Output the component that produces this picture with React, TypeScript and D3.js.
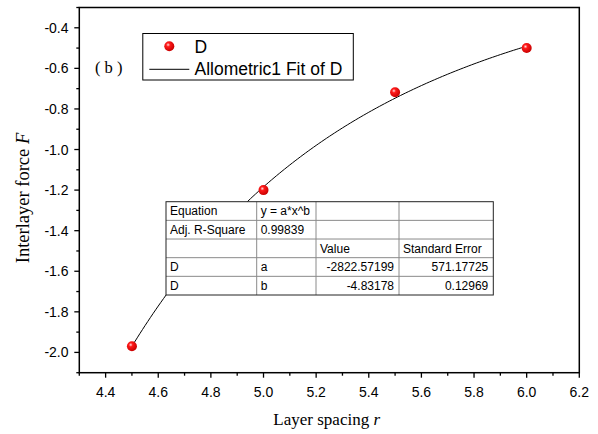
import { useEffect, useRef } from 'react'
import * as d3 from 'd3'

// measured points (layer spacing r, interlayer force F)
const spacing = [4.5, 5.0, 5.5, 6.0]
const force = [-1.97, -1.2, -0.718, -0.5]

// Allometric1 fit parameters (from the fit table)
const fitA = -2822.57199
const fitB = -4.83178

const xTicks = [4.4, 4.6, 4.8, 5.0, 5.2, 5.4, 5.6, 5.8, 6.0, 6.2]
const yTicks = [-2.0, -1.8, -1.6, -1.4, -1.2, -1.0, -0.8, -0.6, -0.4]

const tableRows = [
  ['Equation', 'y = a*x^b', '', ''],
  ['Adj. R-Square', '0.99839', '', ''],
  ['', '', 'Value', 'Standard Error'],
  ['D', 'a', '-2822.57199', '571.17725'],
  ['D', 'b', '-4.83178', '0.12969'],
]
// right-aligned cells: numeric values in the last two columns
const rightAligned = (r: number, c: number) => r >= 3 && c >= 2

const W = 598
const H = 434

const App = () => {
  const ref = useRef<SVGSVGElement>(null)

  useEffect(() => {
    if (!ref.current) return
    const svg = d3.select(ref.current)
    svg.selectAll('*').remove()

    const left = 79.3
    const right = 579.3
    const top = 7.5
    const bottom = 372.7

    const x = d3.scaleLinear().domain([4.3, 6.2]).range([left, right])
    const y = d3.scaleLinear().domain([-2.1, -0.3]).range([bottom, top])

    const defs = svg.append('defs')
    const grad = defs
      .append('radialGradient')
      .attr('id', 'ball')
      .attr('cx', '38%')
      .attr('cy', '35%')
      .attr('r', '65%')
    grad.append('stop').attr('offset', '0%').attr('stop-color', '#ffe0e0')
    grad.append('stop').attr('offset', '30%').attr('stop-color', '#ff1a1a')
    grad.append('stop').attr('offset', '100%').attr('stop-color', '#c80000')

    svg.append('rect').attr('width', W).attr('height', H).attr('fill', '#fff')

    // fit curve
    const fitX = d3.range(4.5, 6.0001, 0.01)
    const line = d3
      .line<number>()
      .x((d) => x(d))
      .y((d) => y(fitA * Math.pow(d, fitB)))
    svg
      .append('path')
      .attr('d', line(fitX))
      .attr('fill', 'none')
      .attr('stroke', '#000')
      .attr('stroke-width', 1)

    // points
    svg
      .selectAll('.pt')
      .data(spacing)
      .enter()
      .append('circle')
      .attr('class', 'pt')
      .attr('cx', (d) => x(d))
      .attr('cy', (_, i) => y(force[i]))
      .attr('r', 5)
      .attr('fill', 'url(#ball)')

    // frame
    svg
      .append('rect')
      .attr('x', left)
      .attr('y', top)
      .attr('width', right - left)
      .attr('height', bottom - top)
      .attr('fill', 'none')
      .attr('stroke', '#000')
      .attr('stroke-width', 1.5)

    // x axis ticks
    const xMinor = d3.range(4.3, 6.2001, 0.1)
    svg
      .append('g')
      .selectAll('line')
      .data(xMinor)
      .enter()
      .append('line')
      .attr('x1', (d) => x(d))
      .attr('x2', (d) => x(d))
      .attr('y1', bottom)
      .attr('y2', (d) => bottom + (xTicks.some((t) => Math.abs(t - d) < 1e-6) ? 5 : 3))
      .attr('stroke', '#000')
      .attr('stroke-width', 1.3)
    svg
      .append('g')
      .selectAll('text')
      .data(xTicks)
      .enter()
      .append('text')
      .attr('x', (d) => x(d))
      .attr('y', 397)
      .attr('text-anchor', 'middle')
      .style('font-family', 'Arial, "Liberation Sans", sans-serif')
      .style('font-size', '14px')
      .text((d) => d.toFixed(1))

    // y axis ticks
    const yMinor = d3.range(-2.1, -0.2999, 0.1)
    svg
      .append('g')
      .selectAll('line')
      .data(yMinor)
      .enter()
      .append('line')
      .attr('x1', left)
      .attr('x2', (d) => left - (yTicks.some((t) => Math.abs(t - d) < 1e-6) ? 5 : 3))
      .attr('y1', (d) => y(d))
      .attr('y2', (d) => y(d))
      .attr('stroke', '#000')
      .attr('stroke-width', 1.3)
    svg
      .append('g')
      .selectAll('text')
      .data(yTicks)
      .enter()
      .append('text')
      .attr('x', 68.5)
      .attr('y', (d) => y(d) + 5)
      .attr('text-anchor', 'end')
      .style('font-family', 'Arial, "Liberation Sans", sans-serif')
      .style('font-size', '14px')
      .text((d) => d.toFixed(1))

    // axis titles
    const xt = svg
      .append('text')
      .attr('x', 326.7)
      .attr('y', 425)
      .attr('text-anchor', 'middle')
      .style('font-family', '"Times New Roman", "Liberation Serif", serif')
      .style('font-size', '17px')
    xt.append('tspan').text('Layer spacing ')
    xt.append('tspan').style('font-style', 'italic').text('r')

    const yt = svg
      .append('text')
      .attr('transform', 'translate(29,198) rotate(-90)')
      .attr('text-anchor', 'middle')
      .style('font-family', '"Times New Roman", "Liberation Serif", serif')
      .style('font-size', '18.5px')
    yt.append('tspan').text('Interlayer force ')
    yt.append('tspan').style('font-style', 'italic').text('F')

    // panel label
    svg
      .append('text')
      .attr('x', 95)
      .attr('y', 73)
      .style('font-family', '"Times New Roman", "Liberation Serif", serif')
      .style('font-size', '16.5px')
      .text('( b )')

    // legend
    const lg = svg.append('g')
    lg.append('rect')
      .attr('x', 142.8)
      .attr('y', 33.5)
      .attr('width', 210.5)
      .attr('height', 46.5)
      .attr('fill', '#fff')
      .attr('stroke', '#000')
      .attr('stroke-width', 1)
    lg.append('circle').attr('cx', 169.3).attr('cy', 46.3).attr('r', 5).attr('fill', 'url(#ball)')
    lg.append('line')
      .attr('x1', 149.3)
      .attr('x2', 189.3)
      .attr('y1', 69.3)
      .attr('y2', 69.3)
      .attr('stroke', '#000')
      .attr('stroke-width', 1)
    lg.append('text')
      .attr('x', 194.5)
      .attr('y', 53.3)
      .style('font-family', 'Arial, "Liberation Sans", sans-serif')
      .style('font-size', '17.5px')
      .text('D')
    lg.append('text')
      .attr('x', 194.5)
      .attr('y', 75.3)
      .style('font-family', 'Arial, "Liberation Sans", sans-serif')
      .style('font-size', '17.5px')
      .text('Allometric1 Fit of D')

    // fit table
    const colX = [166, 256.7, 316, 399, 493.3]
    const tTop = 201.7
    const rowH = 18.66
    const tg = svg.append('g')
    tg.append('rect')
      .attr('x', colX[0])
      .attr('y', tTop)
      .attr('width', colX[4] - colX[0])
      .attr('height', rowH * tableRows.length)
      .attr('fill', '#fff')
    for (let r = 1; r < tableRows.length; r++) {
      tg.append('line')
        .attr('x1', colX[0])
        .attr('x2', colX[4])
        .attr('y1', tTop + r * rowH)
        .attr('y2', tTop + r * rowH)
        .attr('stroke', '#8a8a8a')
        .attr('stroke-width', 1)
    }
    for (let c = 1; c < 4; c++) {
      tg.append('line')
        .attr('x1', colX[c])
        .attr('x2', colX[c])
        .attr('y1', tTop)
        .attr('y2', tTop + rowH * tableRows.length)
        .attr('stroke', '#8a8a8a')
        .attr('stroke-width', 1)
    }
    tg.append('rect')
      .attr('x', colX[0])
      .attr('y', tTop)
      .attr('width', colX[4] - colX[0])
      .attr('height', rowH * tableRows.length)
      .attr('fill', 'none')
      .attr('stroke', '#222')
      .attr('stroke-width', 1)
    tableRows.forEach((row, r) => {
      row.forEach((cell, c) => {
        if (!cell) return
        const ra = rightAligned(r, c)
        tg.append('text')
          .attr('x', ra ? colX[c + 1] - 5 : colX[c] + 4)
          .attr('y', tTop + r * rowH + 13.5)
          .attr('text-anchor', ra ? 'end' : 'start')
          .style('font-family', 'Arial, "Liberation Sans", sans-serif')
          .style('font-size', '12px')
          .text(cell)
      })
    })
  }, [])

  return (
    <svg
      ref={ref}
      width={W}
      height={H}
      style={{ position: 'absolute', left: 0, top: 0, display: 'block' }}
    />
  )
}

export default App
